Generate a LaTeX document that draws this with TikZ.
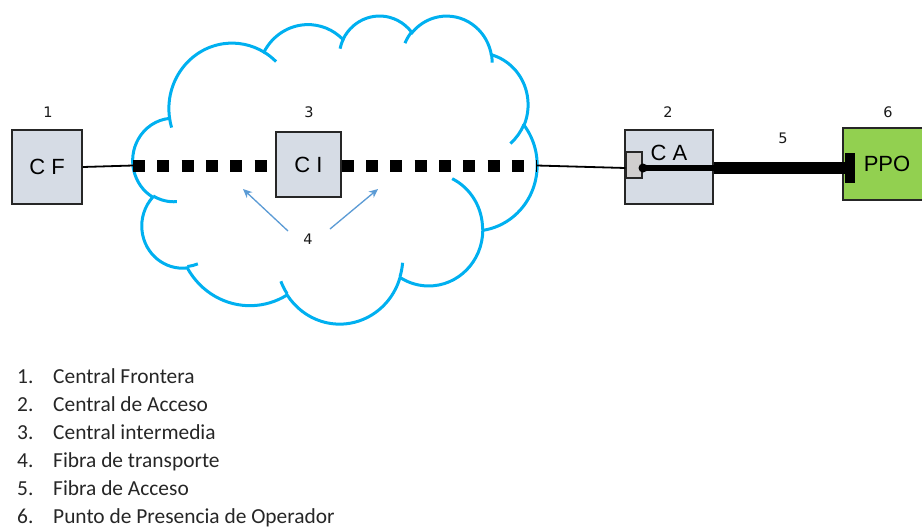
\documentclass[tikz,border=0pt]{standalone}
\usepackage{fontspec}
\setmainfont{Carlito}
\newfontfamily\boxfont{Liberation Sans}
\newfontfamily\numfont{DejaVu Sans}
\usetikzlibrary{arrows.meta}
\definecolor{cloudblue}{RGB}{0,176,240}
\definecolor{boxfill}{RGB}{214,220,229}
\definecolor{ppogreen}{RGB}{146,208,80}
\definecolor{arrowblue}{RGB}{91,155,213}
\definecolor{smallgray}{RGB}{208,206,206}
\tikzset{
  oarc/.style n args={4}{insert path={arc[start angle={cpa(#3,#1,#2)}, end angle={cpe(#3,#4,#1,#2)}, x radius=#1, y radius=#2]}},
  cloudline/.style={draw=cloudblue, line width=3pt},
  centralbox/.style={draw=black!85, line width=1.6pt, fill=boxfill, inner sep=0pt, font=\boxfont\fontsize{22}{24}\selectfont},
  numlabel/.style={font=\numfont\fontsize{14.5}{16}\selectfont, text=black!90},
  fiberdots/.style={line width=12pt, dash pattern=on 12pt off 12.3pt},
  thinfiber/.style={line width=1.8pt, black},
  pointer/.style={draw=arrowblue, line width=1.3pt, -{Stealth[length=9pt,width=8pt]}},
  legend/.style={anchor=base west, inner sep=0pt, font=\fontsize{21.4}{24}\selectfont, text=black!85}
}
\begin{document}
\begin{tikzpicture}[x=1pt,y=-1pt,
  declare function={cpa(\p,\u,\v)=atan2(\u*sin(\p),\v*cos(\p));
                    cpe(\p,\q,\u,\v)=cpa(\p,\u,\v)+mod(cpa(\p+\q,\u,\v)-cpa(\p,\u,\v)-\q+540,360)-180+\q;}]
\useasboundingbox (0,0) rectangle (922,528);
% cloud
\begin{scope}[shift={(133,15)}, x=0.93519pt, y=-0.71296pt]
\draw[cloudline, fill=white] (39.00,143.70)
  [oarc={67.53}{91.90}{-190.4875}{123.7805}]
  [oarc={53.33}{72.67}{-144.1024}{89.9452}]
  [oarc={43.65}{59.45}{-145.8079}{99.7230}]
  [oarc={48.57}{65.95}{-130.9861}{117.2417}]
  [oarc={53.33}{72.73}{-78.7089}{109.0269}]
  [oarc={67.75}{92.20}{-46.2673}{130.2690}]
  [oarc={57.85}{78.67}{0.6250}{114.0333}]
  [oarc={67.52}{92.15}{22.4516}{115.1726}]
  [oarc={77.20}{105.43}{66.2426}{75.7110}]
  [oarc={43.60}{59.18}{-274.9421}{146.7356}]
  [oarc={43.45}{59.45}{-246.8285}{152.5189}] -- cycle;
\draw[cloudline]
  (46.93,261.77) [oarc={43.45}{59.45}{86.7420}{26.4295}]
  (69.28,348.99) [oarc={43.60}{59.18}{73.6105}{11.4475}]
  (164.78,390.90) [oarc={67.52}{92.15}{137.6242}{14.0811}]
  (288.27,347.51) [oarc={67.52}{92.15}{6.4533}{15.9984}]
  (341.29,229.54) [oarc={57.85}{78.67}{-70.2924}{70.9174}]
  (417.98,153.54) [oarc={53.33}{72.73}{30.3180}{27.7515}]
  (383.24,54.26) [oarc={48.57}{65.95}{-13.7443}{14.8589}]
  (290.78,39.52) [oarc={48.57}{65.95}{-149.1815}{18.1954}]
  (221.41,47.20) [oarc={43.65}{59.45}{-163.4943}{17.6864}]
  (140.00,51.92) [oarc={67.53}{91.90}{-66.7070}{12.3194}]
  (41.27,157.89) [oarc={67.53}{91.90}{157.6544}{11.8582}];
\end{scope}
% nodes
\node[centralbox, minimum width=70pt, minimum height=74pt] (CF) at (47,167) {C F};
\node[centralbox, minimum width=65pt, minimum height=65pt] (CI) at (308.5,164.5) {C I};
\node[centralbox, minimum width=88pt, minimum height=74pt] (CA) at (669,167) {};
\node[font=\boxfont\fontsize{22}{24}\selectfont, inner sep=0pt] (CAt) at (669,153) {C A};
\node[draw=black!85, line width=1.6pt, fill=ppogreen, minimum width=82pt, minimum height=72pt, inner sep=0pt] (PPO) at (884,164) {};
\node[font=\boxfont\fontsize{22}{24}\selectfont, inner sep=0pt] (PPOt) at (887,164) {PPO};
\node[draw=black!85, line width=1.2pt, fill=smallgray, minimum width=16pt, minimum height=26pt, inner sep=0pt] (CAp) at (634,165) {};
\node[fill=black, minimum width=10pt, minimum height=30pt, inner sep=0pt] (PPOp) at (850,168) {};
\coordinate (cl) at (133,165.5);
\coordinate (cr) at (537,165.5);
\coordinate (dot) at (643,168);
% fibers
\draw[thinfiber] (CF.east) -- (cl);
\draw[fiberdots] (cl) -- (CI.west |- cl);
\draw[fiberdots] (CI.east |- cl) -- (cr);
\draw[thinfiber] (cr) -- (CAp.west |- dot);
\draw[line width=6pt] (dot) -- (CA.east |- dot);
\draw[line width=12pt] (CA.east |- dot) -- (PPOp.west |- dot);
\fill (dot) circle (4.5pt);
% labels
\node[numlabel] (n1) at (48,112) {1};
\node[numlabel] (n3) at (309,112) {3};
\node[numlabel] (n2) at (668,112) {2};
\node[numlabel] (n6) at (888,112) {6};
\node[numlabel] (n5) at (783,138) {5};
\node[numlabel] (n4) at (308,239) {4};
\coordinate (a1) at (243,189);
\coordinate (a2) at (378,189);
\draw[pointer] (288,231) -- (a1);
\draw[pointer] (330,229) -- (a2);
% legend
\foreach \i/\t [count=\k from 0] in {1/Central Frontera,2/Central de Acceso,3/Central intermedia,4/Fibra de transporte,5/Fibra de Acceso,6/Punto de Presencia de Operador}{
  \node[legend] (ln\i) at (17,383+28*\k) {\i.};
  \node[legend] (lt\i) at (53,383+28*\k) {\t};
}
\end{tikzpicture}
\end{document}
